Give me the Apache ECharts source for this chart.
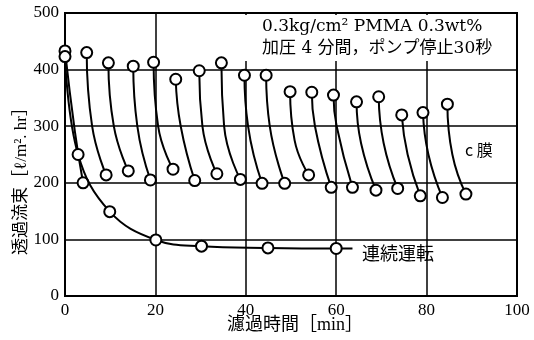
<!DOCTYPE html>
<html><head><meta charset="utf-8">
<script src="https://cdn.jsdelivr.net/npm/echarts@6/dist/echarts.min.js"></script>
<style>html,body{margin:0;padding:0;background:#fff}#c{width:534px;height:340px}</style>
</head><body><div id="c"></div>
<script>
// x ticks / y ticks
var xTicks = [0, 20, 40, 60, 80, 100];
var yTicks = [0, 100, 200, 300, 400, 500];
// continuous operation (連続運転)
var contX = [0, 2.9, 9.9, 20.1, 30.2, 44.9, 60, 63.6];
var contY = [423, 250, 149, 99, 88, 85, 84, 84];
// c membrane: each segment start (high), middle, end (low)
var cHighX = [0, 4.8, 9.6, 15.1, 19.6, 24.5, 29.7, 34.6, 39.7, 44.5, 49.8, 54.6, 59.4, 64.5, 69.4, 74.5, 79.2, 84.6];
var cHighY = [433, 430, 412, 406, 413, 383, 398, 412, 390, 390, 361, 360, 355, 343, 352, 320, 324, 339];
var cMidX  = [2.2, 6.0, 10.8, 16.0, 20.6, 25.6, 30.4, 35.2, 40.5, 45.3, 50.8, 55.3, 60.1, 65.5, 70.5, 75.8, 80.4, 85.7];
var cMidY  = [290, 300, 300, 300, 300, 300, 300, 300, 300, 300, 275, 300, 300, 270, 270, 250, 250, 250];
var cLowX  = [4.0, 9.1, 14.0, 18.9, 23.9, 28.7, 33.6, 38.8, 43.6, 48.6, 53.9, 58.9, 63.6, 68.8, 73.6, 78.6, 83.5, 88.7];
var cLowY  = [200, 214, 221, 205, 224, 204, 216, 206, 199, 199, 214, 192, 192, 187, 190, 177, 174, 180];

var FONT = '"Liberation Serif", "Noto Sans CJK JP", serif';
var FONT2 = '"DejaVu Serif", "Noto Sans CJK JP", serif';
var chart = echarts.init(document.getElementById('c'), null, {renderer: 'canvas'});

var sym = {symbol: 'circle', symbolSize: 11,
  itemStyle: {color: '#fff', borderColor: '#000', borderWidth: 2},
  lineStyle: {color: '#000', width: 2}};

var series = [];
for (var i = 0; i < cHighX.length; i++) {
  series.push(Object.assign({
    type: 'line', smooth: 0.5, silent: true, animation: false, z: 3,
    data: [
      {value: [cHighX[i], cHighY[i]]},
      {value: [cMidX[i], cMidY[i]], symbol: 'none'},
      {value: [cLowX[i], cLowY[i]]}
    ]
  }, sym));
}
var contData = contX.map(function (x, k) {
  var d = {value: [x, contY[k]]};
  if (k === contX.length - 1) d.symbol = 'none';
  return d;
});
series.push(Object.assign({type: 'line', smooth: 0.4, silent: true, animation: false, z: 4, data: contData}, sym));

chart.setOption({
  animation: false,
  backgroundColor: '#fff',
  grid: {left: 65, right: 17, top: 13, bottom: 44, show: true, borderColor: '#000', borderWidth: 2, backgroundColor: 'transparent'},
  xAxis: {type: 'value', min: xTicks[0], max: xTicks[xTicks.length - 1], interval: 20,
    axisLine: {lineStyle: {color: '#000', width: 2}}, axisTick: {show: false},
    axisLabel: {color: '#000', fontFamily: FONT, fontSize: 17, margin: 6},
    splitLine: {lineStyle: {color: '#000', width: 1.5}}},
  yAxis: {type: 'value', min: yTicks[0], max: yTicks[yTicks.length - 1], interval: 100,
    axisLine: {lineStyle: {color: '#000', width: 2}}, axisTick: {show: false},
    axisLabel: {color: '#000', fontFamily: FONT, fontSize: 17, margin: 6},
    splitLine: {lineStyle: {color: '#000', width: 1.5}}},
  graphic: [
    {type: 'rect', shape: {x: 244, y: 15, width: 271, height: 46}, style: {fill: '#fff'}, z: 10},
    {type: 'text', left: 262, top: 18, z: 11, style: {text: '0.3kg/cm² PMMA 0.3wt%', font: '17px ' + FONT2, fill: '#000'}},
    {type: 'text', left: 262, top: 40, z: 11, style: {text: '加圧 4 分間，ポンプ停止30秒', font: '17px ' + FONT2, fill: '#000'}},
    {type: 'text', left: 465, top: 142, z: 11, style: {text: 'c 膜', font: '16px "Noto Sans CJK JP", sans-serif', fill: '#000'}},
    {type: 'text', left: 362, top: 246, z: 11, style: {text: '連続運転', font: '18px ' + FONT, fill: '#000'}},
    {type: 'text', left: 227, top: 316, z: 11, style: {text: '濾過時間［min］', font: '18px ' + FONT, fill: '#000'}},
    {type: 'text', x: 22, y: 177, rotation: Math.PI / 2, z: 11,
      style: {text: '透過流束［ℓ/m². hr］', font: '17px ' + FONT, fill: '#000', align: 'center', verticalAlign: 'middle'}}
  ],
  series: series
});
</script></body></html>
